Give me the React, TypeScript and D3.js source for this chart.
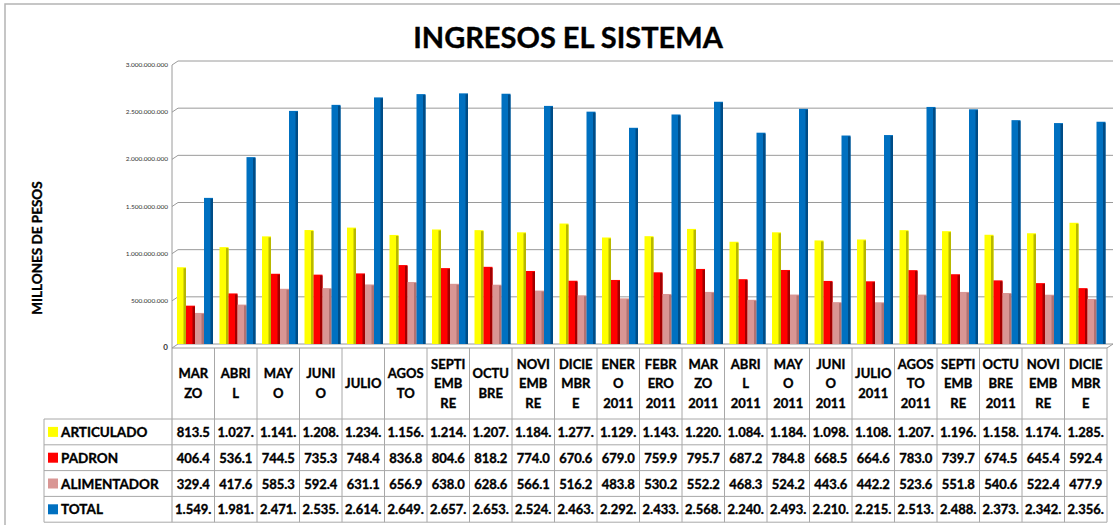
import * as d3 from 'd3';

const categories = [
  'MAR\nZO', 'ABRI\nL', 'MAY\nO', 'JUNI\nO', 'JULIO', 'AGOS\nTO', 'SEPTI\nEMB\nRE', 'OCTU\nBRE',
  'NOVI\nEMB\nRE', 'DICIE\nMBR\nE', 'ENER\nO\n2011', 'FEBR\nERO\n2011', 'MAR\nZO\n2011', 'ABRI\nL\n2011',
  'MAY\nO\n2011', 'JUNI\nO\n2011', 'JULIO\n2011', 'AGOS\nTO\n2011', 'SEPTI\nEMB\nRE', 'OCTU\nBRE\n2011',
  'NOVI\nEMB\nRE', 'DICIE\nMBR\nE',
];

// millones de pesos
const articulado = [813.5, 1027, 1141, 1208, 1234, 1156, 1214, 1207, 1184, 1277, 1129, 1143, 1220, 1084, 1184, 1098, 1108, 1207, 1196, 1158, 1174, 1285];
const padron = [406.4, 536.1, 744.5, 735.3, 748.4, 836.8, 804.6, 818.2, 774.0, 670.6, 679.0, 759.9, 795.7, 687.2, 784.8, 668.5, 664.6, 783.0, 739.7, 674.5, 645.4, 592.4];
const alimentador = [329.4, 417.6, 585.3, 592.4, 631.1, 656.9, 638.0, 628.6, 566.1, 516.2, 483.8, 530.2, 552.2, 468.3, 524.2, 443.6, 442.2, 523.6, 551.8, 540.6, 522.4, 477.9];
const total = [1549, 1981, 2471, 2535, 2614, 2649, 2657, 2653, 2524, 2463, 2292, 2433, 2568, 2240, 2493, 2210, 2215, 2513, 2488, 2373, 2342, 2356];

const yTicks = [0, 500, 1000, 1500, 2000, 2500, 3000];

const series = [
  { name: 'ARTICULADO', values: articulado, color: '#ffff00', side: '#b8b800' },
  { name: 'PADRON', values: padron, color: '#ff0000', side: '#a00000' },
  { name: 'ALIMENTADOR', values: alimentador, color: '#d99694', side: '#b07272' },
  { name: 'TOTAL', values: total, color: '#0070c0', side: '#004c86' },
];

const W = 1120;
const H = 525;
const font = 'Lato, "Open Sans", sans-serif';

const locale = d3.formatLocale({ decimal: ',', thousands: '.', grouping: [3], currency: ['$', ''] });
const fmtPesos = locale.format(',d');

function fmtCell(v: number) {
  if (v >= 1000) {
    const n = Math.floor(v);
    return `${Math.floor(n / 1000)}.${String(n % 1000).padStart(3, '0')}.`;
  }
  return v.toFixed(1);
}

export default function App() {
  const left = 172;
  const right = 1107;
  const depthX = 6;
  const depthY = 4;

  const x0 = d3.scaleBand<number>().domain(d3.range(categories.length)).range([left, right]);
  const x1 = d3.scaleBand<string>().domain(series.map((s) => s.name)).range([5, 41]);
  const y = d3.scaleLinear().domain([0, 3000]).range([344, 61]);

  const headTop = y(0) + depthY;
  const tableTop = 419;
  const rowH = 25.8;
  const bw = x1.bandwidth();
  const heavy = { stroke: '#000', strokeWidth: 0.35 };

  return (
    <svg width={W} height={H} style={{ position: 'absolute', left: 0, top: 0, background: '#fff' }}>
      <rect x={5} y={4} width={W + 20} height={H + 20} fill="#fff" stroke="#b4b4b4" strokeWidth={1.5} />

      <text x={568} y={48} textAnchor="middle" fontFamily={font} fontWeight="bold" fontSize={29} fill="#000" {...heavy}>
        INGRESOS EL SISTEMA
      </text>

      <text
        transform={`translate(42,${248}) rotate(-90)`}
        textAnchor="middle"
        fontFamily={font}
        fontWeight="bold"
        fontSize={13.5}
        {...heavy}
      >
        MILLONES DE PESOS
      </text>

      {/* gridlines with 3d offset */}
      {yTicks.map((t) => (
        <g key={t}>
          <polyline
            points={`${left},${y(t) + depthY} ${left + depthX},${y(t)} ${right + depthX},${y(t)}`}
            fill="none"
            stroke="#9a9a9a"
            strokeWidth={1}
          />
          <text x={left - 4} y={y(t) + depthY + 2} textAnchor="end" fontFamily={font} fontSize={t === 0 ? 8 : 6.5} fontWeight={t === 0 ? 'bold' : 'normal'} fill="#333">
            {t === 0 ? '0' : fmtPesos(t * 1e6)}
          </text>
        </g>
      ))}
      <line x1={right} y1={headTop} x2={right + depthX} y2={y(0)} stroke="#9a9a9a" />
      <line x1={left} y1={y(3000) + depthY} x2={left} y2={tableTop + rowH * 4} stroke="#9a9a9a" />

      {/* bars */}
      {categories.map((c, i) => (
        <g key={i}>
          {series.map((s) => {
            const bx = (x0(i) ?? 0) + (x1(s.name) ?? 0);
            const top = y(s.values[i]);
            return (
              <g key={s.name}>
                <rect x={bx} y={top} width={bw} height={y(0) - top} fill={s.color} />
                <rect x={bx + bw - 2.5} y={top + 1} width={2.5} height={y(0) - top - 1} fill={s.side} />
              </g>
            );
          })}
        </g>
      ))}

      {/* header row */}
      <line x1={left} y1={headTop} x2={right} y2={headTop} stroke="#9a9a9a" />
      {categories.map((c, i) => {
        const lines = c.split('\n');
        const cx = (x0(i) ?? 0) + x0.bandwidth() / 2;
        const midY = 383;
        return (
          <g key={i}>
            <line x1={(x0(i) ?? 0) + x0.bandwidth()} y1={headTop} x2={(x0(i) ?? 0) + x0.bandwidth()} y2={tableTop + rowH * 4} stroke="#a8a8a8" />
            {lines.map((l, k) => (
              <text
                key={k}
                x={cx}
                y={midY + (k - (lines.length - 1) / 2) * 19.5 + 5}
                textAnchor="middle"
                fontFamily={font}
                fontWeight="bold"
                fontSize={13}
                {...heavy}
              >
                {l}
              </text>
            ))}
          </g>
        );
      })}

      {/* data table */}
      {[0, 1, 2, 3, 4].map((r) => (
        <line key={r} x1={44} y1={tableTop + r * rowH} x2={right} y2={tableTop + r * rowH} stroke="#a8a8a8" />
      ))}
      <line x1={44} y1={tableTop} x2={44} y2={tableTop + rowH * 4} stroke="#a8a8a8" />
      {series.map((s, r) => {
        const cy = tableTop + r * rowH + rowH / 2;
        return (
          <g key={s.name}>
            <rect x={48} y={cy - 5} width={10} height={10} fill={s.color} />
            <text x={61} y={cy + 5} fontFamily={font} fontWeight="bold" fontSize={13.5} {...heavy}>
              {s.name}
            </text>
            {s.values.map((v, i) => (
              <text
                key={i}
                x={(x0(i) ?? 0) + x0.bandwidth() / 2}
                y={cy + 5}
                textAnchor="middle"
                fontFamily={font}
                fontWeight="bold"
                fontSize={13}
                {...heavy}
              >
                {fmtCell(v)}
              </text>
            ))}
          </g>
        );
      })}
    </svg>
  );
}
